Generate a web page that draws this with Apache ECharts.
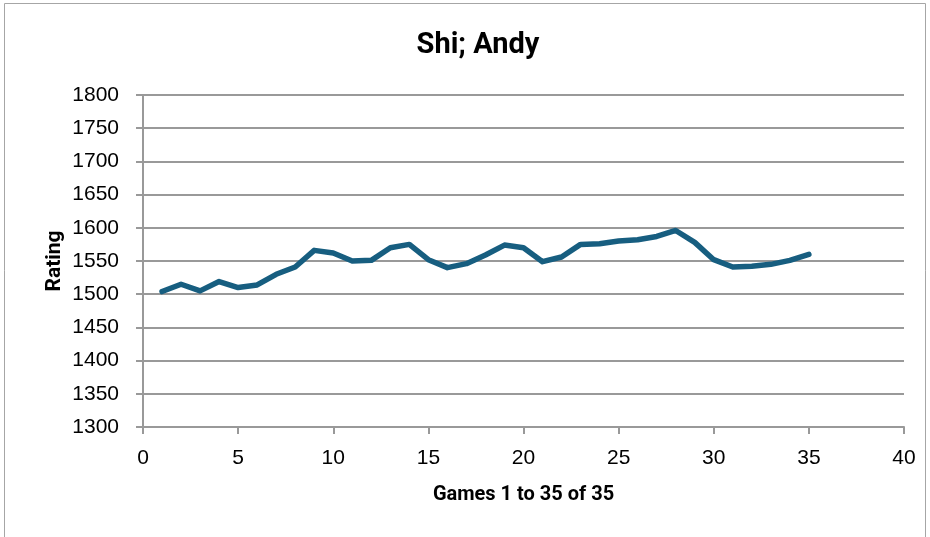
<!DOCTYPE html>
<html>
<head>
<meta charset="utf-8">
<script src="https://cdn.jsdelivr.net/npm/echarts@6/dist/echarts.min.js"></script>
<style>
html,body{margin:0;padding:0;background:#fff;}
#chart{width:930px;height:537px;}
</style>
</head>
<body>
<div id="chart"></div>
<script>
var games = [1,2,3,4,5,6,7,8,9,10,11,12,13,14,15,16,17,18,19,20,21,22,23,24,25,26,27,28,29,30,31,32,33,34,35];
var ratings = [1504,1515,1505,1519,1510,1514,1530,1541,1566,1562,1550,1551,1570,1575,1552,1540,1546,1559,1574,1570,1549,1556,1575,1576,1580,1582,1587,1596,1578,1552,1541,1542,1545,1551,1560];
var titleText = 'Shi; Andy';
var xName = 'Games 1 to 35 of 35';
var yName = 'Rating';

var seriesData = games.map(function(g, i){ return [g, ratings[i]]; });

var chart = echarts.init(document.getElementById('chart'), null, {renderer:'canvas'});
var gridColor = '#999999';
chart.setOption({
  backgroundColor: '#ffffff',
  animation: false,
  graphic: [{
    type: 'rect',
    shape: {x: 4.5, y: 3.5, width: 921, height: 545},
    style: {fill: 'none', stroke: '#a6a6a6', lineWidth: 1},
    silent: true
  }],
  title: {
    text: titleText,
    left: 473,
    textAlign: 'center',
    top: 26,
    textStyle: {fontFamily: 'Roboto', fontWeight: 'bold', fontSize: 29, color: '#000'}
  },
  grid: {left: 143, right: 26, top: 95, bottom: 110, containLabel: false},
  xAxis: {
    type: 'value',
    min: 0, max: 40, interval: 5,
    name: xName,
    nameLocation: 'middle',
    nameGap: 58,
    nameMoveOverlap: false,
    nameTextStyle: {fontFamily: 'Roboto', fontWeight: 'bold', fontSize: 20, color: '#000'},
    axisLine: {show: true, lineStyle: {color: gridColor, width: 2}},
    axisTick: {show: true, inside: false, length: 7, lineStyle: {color: gridColor, width: 2}},
    axisLabel: {fontFamily: 'Liberation Sans', fontSize: 21, color: '#000', margin: 21, formatter: function(v){ return String(v); }},
    splitLine: {show: false}
  },
  yAxis: {
    type: 'value',
    min: 1300, max: 1800, interval: 50,
    name: yName,
    nameLocation: 'middle',
    nameGap: 78,
    nameMoveOverlap: false,
    nameTextStyle: {fontFamily: 'Roboto', fontWeight: 'bold', fontSize: 21, color: '#000'},
    axisLine: {show: true, lineStyle: {color: gridColor, width: 2}},
    axisTick: {show: true, inside: false, length: 7, lineStyle: {color: gridColor, width: 2}},
    axisLabel: {fontFamily: 'Liberation Sans', fontSize: 21, color: '#000', margin: 24, formatter: function(v){ return String(v); }},
    splitLine: {show: true, lineStyle: {color: gridColor, width: 2}}
  },
  series: [{
    type: 'line',
    data: seriesData,
    showSymbol: false,
    symbol: 'none',
    lineStyle: {color: '#175e80', width: 5.5, cap: 'round', join: 'round'},
    itemStyle: {color: '#175e80'}
  }]
});
</script>
</body>
</html>
